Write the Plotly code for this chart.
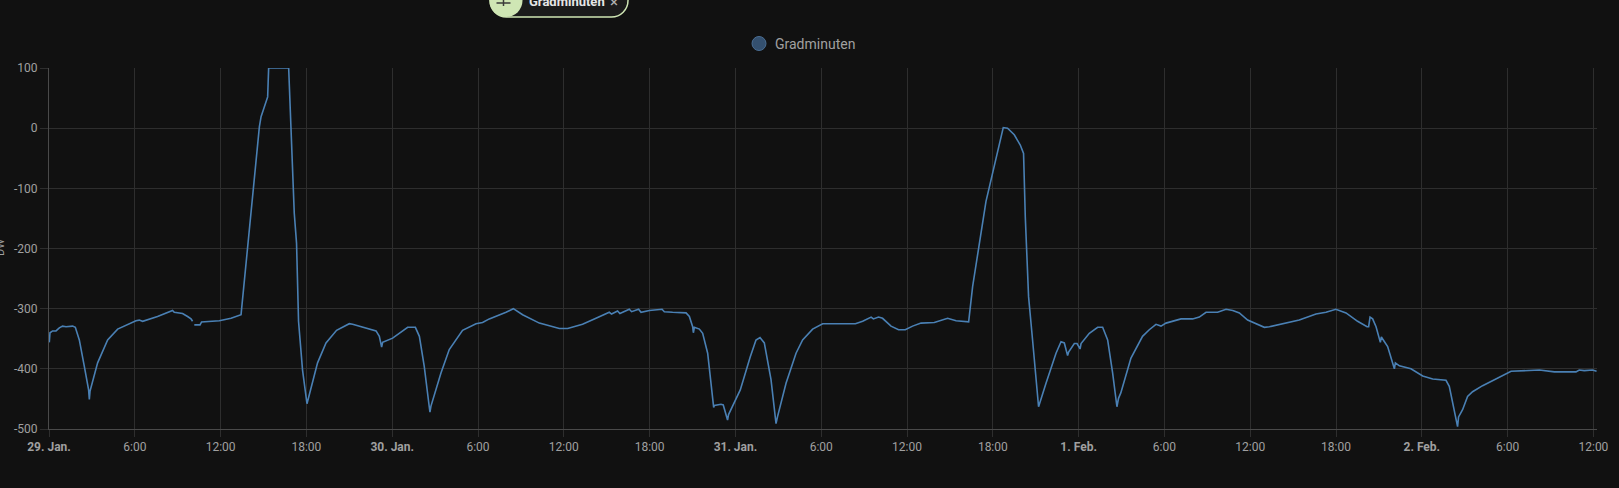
import pandas as pd
import plotly.graph_objects as go

# ---- data: hours since 29 Jan 00:00 and Gradminuten values ----
hours = [0.02, 0.07, 0.25, 0.49, 0.72, 0.95, 1.19, 1.65, 1.84, 2.12, 2.47, 2.77, 2.82, 2.87, 3.40,
         4.10, 4.80, 6.08, 6.31, 6.55, 7.59, 8.18, 8.64, 8.76, 9.34, 9.69, 9.93, 10.04, 10.10,
         10.16, 10.56, 10.67, 11.91, 12.73, 13.43, 14.71, 14.83, 15.29, 15.36, 16.76, 16.92,
         17.15, 17.31, 17.45, 17.73, 18.04, 18.78, 19.37, 20.11, 21.00, 21.23, 22.87, 23.10,
         23.26, 23.33, 23.45, 24.03, 25.08, 25.62, 25.90, 26.24, 26.59, 26.64, 26.71, 27.41,
         27.99, 28.92, 29.86, 30.32, 30.79, 31.49, 31.96, 32.47, 33.12, 34.29, 35.69, 36.27,
         37.31, 38.25, 39.18, 39.34, 39.76, 39.92, 40.58, 40.74, 41.23, 41.40, 41.98, 42.87,
         43.03, 43.61, 44.55, 44.78, 45.01, 45.06, 45.13, 45.48, 45.71, 46.06, 46.48, 46.53,
         46.99, 47.15, 47.45, 47.52, 48.34, 49.04, 49.44, 49.72, 50.02, 50.49, 50.84, 50.95,
         51.54, 52.24, 52.70, 53.40, 54.10, 56.39, 56.90, 57.49, 57.65, 58.01, 58.29, 58.88,
         59.41, 59.88, 60.39, 60.98, 61.91, 62.84, 63.43, 64.31, 64.59, 65.52, 66.22, 66.73,
         67.03, 67.50, 67.92, 68.15, 68.27, 68.50, 68.78, 69.20, 69.72, 70.42, 70.77, 71.00,
         71.23, 71.30, 71.70, 71.89, 72.10, 72.17, 72.75, 73.33, 73.68, 74.03, 74.38, 74.68,
         74.79, 74.95, 75.66, 76.47, 76.94, 77.41, 77.76, 78.11, 79.16, 79.97, 80.44, 80.91,
         81.72, 82.31, 82.78, 83.24, 83.82, 84.99, 85.34, 86.38, 87.43, 88.60, 89.30, 89.99,
         90.70, 91.51, 92.17, 92.28, 92.38, 92.56, 92.80, 93.10, 93.17, 93.61, 93.92, 94.08,
         94.15, 94.43, 95.24, 96.06, 96.76, 97.69, 97.92, 98.50, 98.57, 98.85, 99.20, 99.55,
         100.25, 101.42, 102.24, 104.22, 105.27, 106.78, 107.01, 107.36, 107.94, 108.22]

values = [-356, -340, -337, -337, -332, -329, -330, -329, -331, -352, -396, -435, -451, -437, -390,
          -352, -334, -320, -319, -321, -313, -307, -303, -306, -308, -313, -317, -321, None,
          -327, -327, -322, -320, -316, -310, 2, 19, 52, 100, 100, 2,
          -141, -191, -321, -402, -458, -390, -357, -336, -325, -326, -337, -346,
          -364, -356, -355, -349, -331, -331, -346, -396, -463, -472, -462, -407,
          -368, -336, -325, -323, -317, -311, -306, -300, -310, -324, -333, -333,
          -326, -316, -306, -309, -304, -308, -301, -305, -301, -306, -303, -301,
          -305, -306, -307, -313, -330, -340, -331, -334, -341, -374, -464, -461,
          -459, -460, -485, -476, -435, -380, -352, -348, -357, -418, -491, -479,
          -424, -374, -352, -334, -325, -325, -321, -314, -317, -314, -316, -329,
          -335, -335, -329, -324, -323, -316, -320, -322, -263, -122, -53, 1,
          0, -11, -28, -42, -147, -280, -352, -463, -424, -374, -355, -357,
          -378, -372, -358, -358, -367, -358, -341, -331, -331, -352, -407, -463,
          -449, -440, -382, -346, -335, -326, -329, -324, -317, -317, -314, -306,
          -306, -301, -303, -307, -319, -331, -330, -324, -319, -309, -306, -301,
          -307, -321, -330, -330, -314, -317, -330, -356, -347, -363, -385, -400,
          -390, -395, -400, -412, -417, -419, -429, -496, -480, -468, -446, -438,
          -428, -414, -404, -402, -405, -405, -402, -403, -402, -404]

series_name = "Gradminuten"
y_title = "DW"
y_ticks = [100, 0, -100, -200, -300, -400, -500]
x_tick_hours = list(range(0, 109, 6))
x_tick_text = ["<b>29. Jan.</b>", "6:00", "12:00", "18:00",
               "<b>30. Jan.</b>", "6:00", "12:00", "18:00",
               "<b>31. Jan.</b>", "6:00", "12:00", "18:00",
               "<b>1. Feb.</b>", "6:00", "12:00", "18:00",
               "<b>2. Feb.</b>", "6:00", "12:00"]

base = pd.Timestamp("2024-01-29 00:00")
times = base + pd.to_timedelta(hours, unit="h")
tick_times = base + pd.to_timedelta(x_tick_hours, unit="h")
x_end = base + pd.to_timedelta(108.25, unit="h")

BG = "#111111"
GRID = "#2e2e2e"
AXIS = "#4a4a4a"
LINE = "#4a80b4"
TXT = "#a0a0a0"

W, H = 1619, 488
L, R, T, B = 49, 22, 68, 59
PW, PH = W - L - R, H - T - B


def px_x(px):
    return (px - L) / PW


def px_y(py):
    return (H - B - py) / PH


fig = go.Figure()
fig.add_trace(go.Scatter(
    x=times, y=values, mode="lines", name=series_name,
    line=dict(color=LINE, width=1.6), connectgaps=False,
    showlegend=False, hoverinfo="x+y"))

fig.update_layout(
    width=W, height=H,
    paper_bgcolor=BG, plot_bgcolor=BG,
    margin=dict(l=L, r=R, t=T, b=B, autoexpand=False),
    font=dict(family="Roboto", size=12, color=TXT),
    showlegend=False,
    xaxis=dict(
        range=[base, x_end], tickvals=tick_times, ticktext=x_tick_text,
        showgrid=True, gridcolor=GRID, gridwidth=1,
        showline=True, linecolor=AXIS, linewidth=1,
        ticks="outside", ticklen=7, tickcolor=GRID,
        tickfont=dict(family="Roboto", size=12, color=TXT),
        zeroline=False, fixedrange=True),
    yaxis=dict(
        range=[-500, 100], tickvals=y_ticks, ticktext=[str(v) for v in y_ticks],
        showgrid=True, gridcolor=GRID, gridwidth=1,
        showline=True, linecolor=AXIS, linewidth=1,
        ticks="outside", ticklen=8, tickcolor=GRID,
        tickfont=dict(family="Roboto", size=12, color=TXT),
        zeroline=False, fixedrange=True),
)

shapes = []
annotations = []

# custom legend
shapes.append(dict(type="circle", xref="paper", yref="paper",
                   xsizemode="pixel", ysizemode="pixel",
                   xanchor=px_x(759), yanchor=px_y(43.5),
                   x0=-7, x1=7, y0=-7, y1=7,
                   fillcolor="#34506f", line=dict(color="#4a6d92", width=1)))
annotations.append(dict(text=series_name, xref="paper", yref="paper",
                        x=px_x(773), y=px_y(43.5), xanchor="left", yanchor="middle",
                        showarrow=False, font=dict(family="Roboto", size=14, color=TXT)))

# y-axis title (cut by the left edge, as in the reference)
annotations.append(dict(text=y_title, xref="paper", yref="paper",
                        x=px_x(0), y=px_y(248), xanchor="center", yanchor="middle",
                        textangle=-90, showarrow=False,
                        font=dict(family="Roboto", size=11, color=TXT)))

# filter chip at the top (partly cut off, as in the reference)
k = 0.5523 * 16.5
chip_path = (f"M -52.5,16.5 L 52.5,16.5 C {52.5 + k},16.5 69,{k} 69,0 "
             f"C 69,{-k} {52.5 + k},-16.5 52.5,-16.5 L -52.5,-16.5 "
             f"C {-52.5 - k},-16.5 -69,{-k} -69,0 C -69,{k} {-52.5 - k},16.5 -52.5,16.5 Z")
shapes.append(dict(type="path", xref="paper", yref="paper",
                   xsizemode="pixel", ysizemode="pixel",
                   xanchor=px_x(559), yanchor=px_y(0.5), path=chip_path,
                   fillcolor="#1b1b1b", line=dict(color="#cfe6b4", width=1.5)))
shapes.append(dict(type="circle", xref="paper", yref="paper",
                   xsizemode="pixel", ysizemode="pixel",
                   xanchor=px_x(506), yanchor=px_y(0.5),
                   x0=-16.5, x1=16.5, y0=-16.5, y1=16.5,
                   fillcolor="#cfe6b4", line=dict(width=0)))
shapes.append(dict(type="line", xref="paper", yref="paper",
                   xsizemode="pixel", ysizemode="pixel",
                   xanchor=px_x(503.5), yanchor=px_y(3),
                   x0=-7, x1=7, y0=0, y1=0,
                   line=dict(color="#3a3a3a", width=1.5)))
shapes.append(dict(type="line", xref="paper", yref="paper",
                   xsizemode="pixel", ysizemode="pixel",
                   xanchor=px_x(503.5), yanchor=px_y(3),
                   x0=0, x1=0, y0=-3, y1=3,
                   line=dict(color="#3a3a3a", width=1.5)))
annotations.append(dict(text="<b>Gradminuten</b>", xref="paper", yref="paper",
                        x=px_x(527), y=px_y(1), xanchor="left", yanchor="middle",
                        showarrow=False, font=dict(family="Roboto", size=13, color="#e6e6e6")))
annotations.append(dict(text="×", xref="paper", yref="paper",
                        x=px_x(614), y=px_y(2), xanchor="center", yanchor="middle",
                        showarrow=False, font=dict(family="Roboto", size=15, color="#b0b0b0")))

fig.update_layout(shapes=shapes, annotations=annotations)

fig.write_html(
    "out.html",
    config={"displayModeBar": False},
    post_script="document.body.style.margin='0';document.body.style.background='#111111';"
                "document.documentElement.style.background='#111111';",
)
